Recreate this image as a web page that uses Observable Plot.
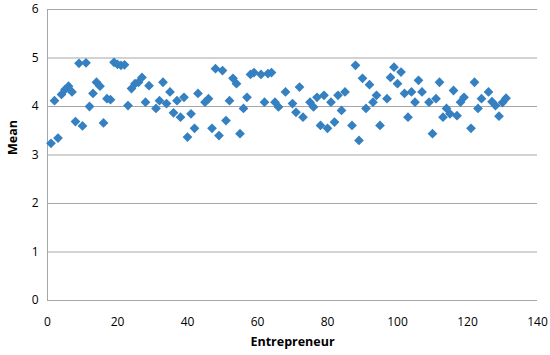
<!DOCTYPE html>
<html>
<head>
<meta charset="utf-8">
<script src="https://cdn.jsdelivr.net/npm/d3@7"></script>
<script src="https://cdn.jsdelivr.net/npm/@observablehq/plot@0.6"></script>
<style>
  html, body { margin: 0; padding: 0; background: #fff; }
</style>
</head>
<body>
<div id="chart"></div>
<script>
const ids = [1,2,3,4,5,6,7,8,9,10,11,12,13,14,15,16,17,18,19,20,21,22,23,24,25,26,27,28,29,31,32,33,34,35,36,37,38,39,40,41,42,43,45,46,47,48,49,50,51,52,53,54,55,56,57,58,59,61,62,63,64,65,66,68,70,71,72,73,75,76,77,78,79,80,81,82,83,84,85,87,88,89,90,91,92,93,94,95,97,98,99,100,101,102,103,104,105,106,107,109,110,111,112,113,114,115,116,117,118,119,121,122,123,124,126,127,128,129,130,131];
const means = [3.24,4.12,3.35,4.25,4.35,4.42,4.30,3.69,4.89,3.60,4.90,4.00,4.27,4.50,4.42,3.66,4.16,4.14,4.91,4.87,4.85,4.86,4.02,4.37,4.47,4.50,4.60,4.09,4.43,3.96,4.12,4.50,4.06,4.30,3.87,4.12,3.78,4.19,3.37,3.85,3.55,4.27,4.09,4.16,3.55,4.78,3.40,4.74,3.71,4.12,4.58,4.47,3.44,3.96,4.19,4.66,4.70,4.66,4.09,4.68,4.70,4.09,3.99,4.30,4.06,3.88,4.40,3.78,4.09,3.99,4.19,3.61,4.23,3.55,4.09,3.68,4.23,3.92,4.30,3.61,4.85,3.30,4.58,3.96,4.45,4.09,4.23,3.61,4.16,4.60,4.81,4.47,4.71,4.27,3.78,4.30,4.09,4.54,4.30,4.09,3.44,4.16,4.50,3.78,3.96,3.85,4.33,3.81,4.09,4.19,3.55,4.50,3.96,4.16,4.30,4.10,4.02,3.80,4.08,4.17];
const xTicks = [0,20,40,60,80,100,120,140];
const yTicks = [0,1,2,3,4,5,6];

const data = ids.map((id, i) => ({id, mean: means[i]}));

const chart = Plot.plot({
  width: 550,
  height: 355,
  marginLeft: 47,
  marginRight: 13,
  marginTop: 9,
  marginBottom: 55,
  style: {fontFamily: "Open Sans, sans-serif", fontSize: "12px", color: "#000", background: "#fff"},
  x: {domain: [0, 140]},
  y: {domain: [0, 6]},
  marks: [
    Plot.ruleY(yTicks, {stroke: "#a6a6a6", strokeWidth: 1}),
    Plot.ruleX([0], {stroke: "#a6a6a6", strokeWidth: 1}),
    Plot.axisX({ticks: xTicks, tickFormat: d => String(d), tickSize: 0, tickPadding: 17, label: null, fill: "#000"}),
    Plot.axisY({ticks: yTicks, tickFormat: d => String(d), tickSize: 0, tickPadding: 9, label: null, fill: "#000"}),
    Plot.text(["Entrepreneur"], {frameAnchor: "bottom", dy: 45, fontWeight: "bold", fontSize: 12.5, fill: "#000"}),
    Plot.text(["Mean"], {frameAnchor: "left", dx: -35, rotate: -90, fontWeight: "bold", fontSize: 12.5, fill: "#000"}),
    Plot.dot(data, {x: "id", y: "mean", symbol: "diamond2", r: 4.4, fill: "#3580c0", stroke: "none"})
  ]
});
document.getElementById("chart").appendChild(chart);
</script>
</body>
</html>
